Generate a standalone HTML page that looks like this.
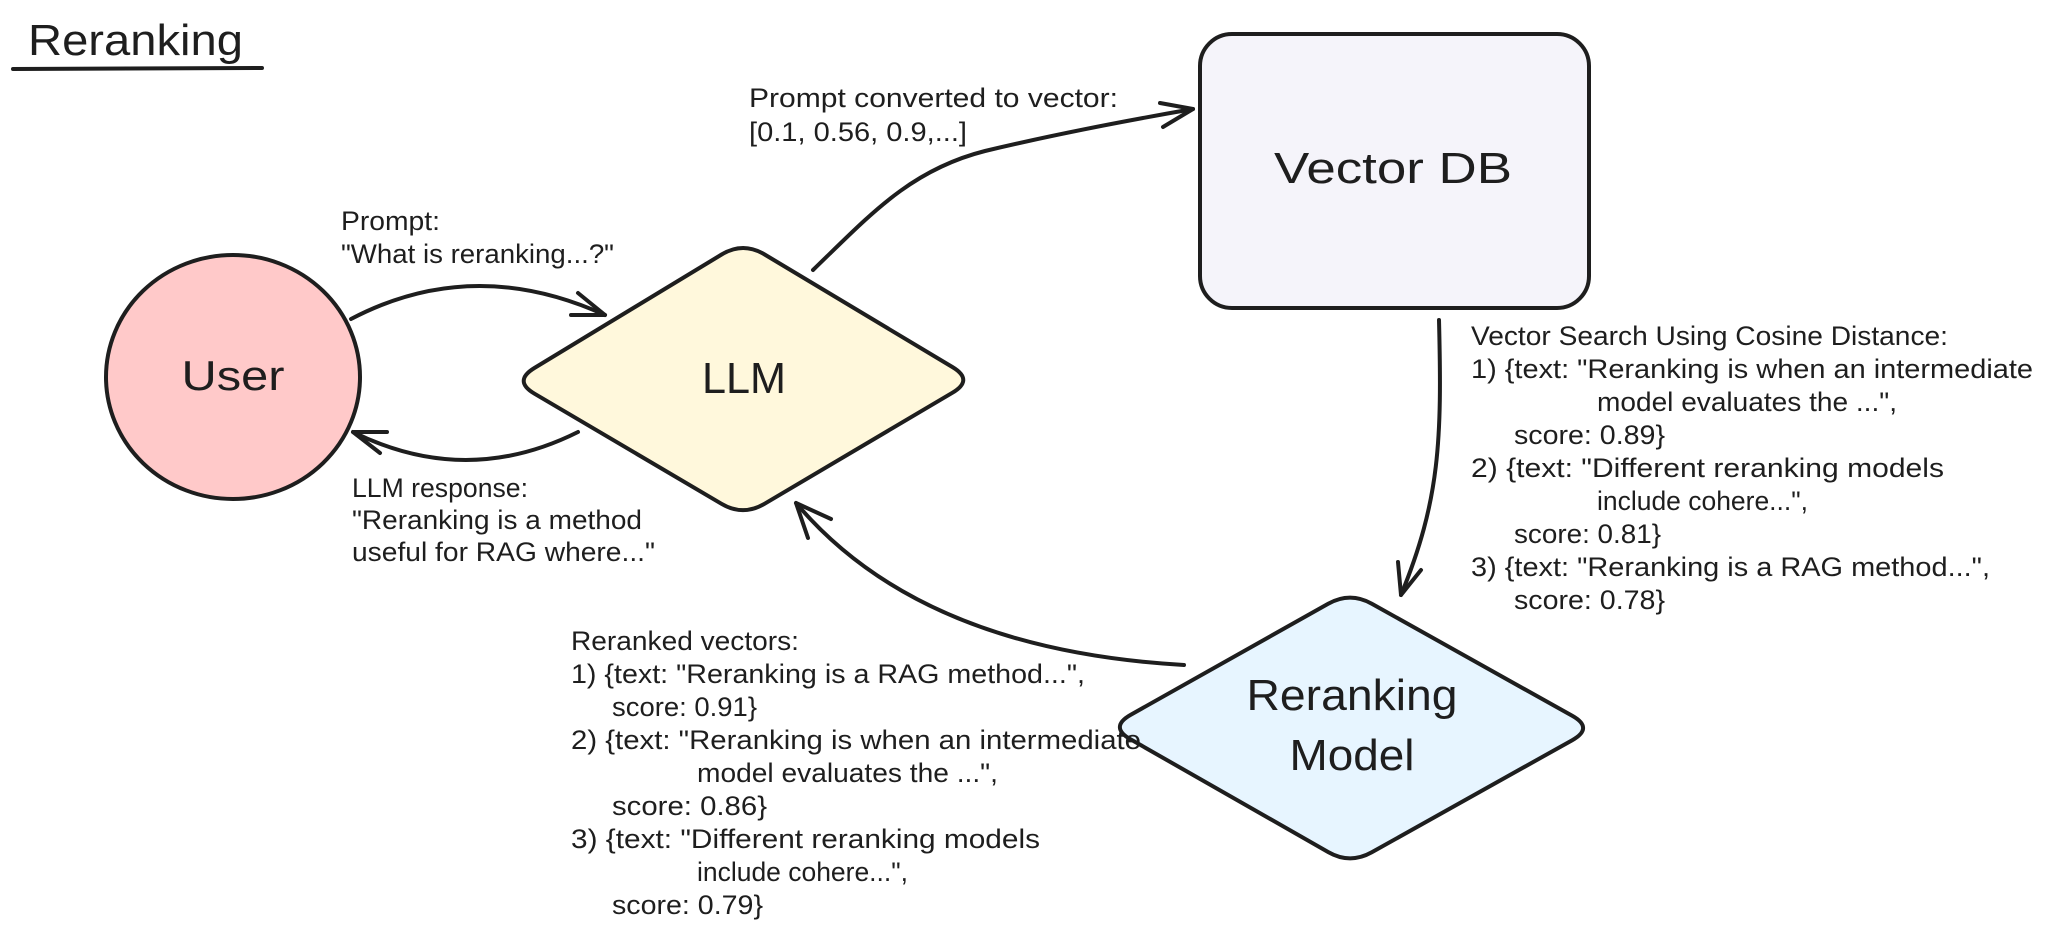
<!DOCTYPE html>
<html>
<head>
<meta charset="utf-8">
<style>
  html, body { margin: 0; padding: 0; background: #ffffff; }
  svg { display: block; }
  text { font-family: "Liberation Sans", "DejaVu Sans", sans-serif; fill: #1e1e1e; }
  .s { font-size: 27px; }
  .b { font-size: 44px; }
</style>
</head>
<body>
<svg width="2048" height="937" viewBox="0 0 2048 937" xmlns="http://www.w3.org/2000/svg">
  <rect x="0" y="0" width="2048" height="937" fill="#ffffff"/>

  <!-- Title -->
  <text class="b" x="28" y="55" textLength="215" lengthAdjust="spacingAndGlyphs">Reranking</text>
  <path d="M13 69 L262 68" stroke="#1e1e1e" stroke-width="4" stroke-linecap="round" fill="none"/>

  <!-- User circle -->
  <ellipse cx="233" cy="377" rx="127" ry="122" fill="#ffc9c9" stroke="#1e1e1e" stroke-width="4"/>
  <text class="b" x="233" y="390" text-anchor="middle" textLength="103" lengthAdjust="spacingAndGlyphs" style="font-size:42px">User</text>

  <!-- LLM diamond -->
  <path d="M534.4,368 L721.6,254.5 Q743,241.5 764.45,254.35 L952.55,367.15 Q974,380 952.5,392.7 L764.5,503.8 Q743,516.5 721.5,503.8 L534.5,393.7 Q513,381 534.4,368 Z"
        fill="#fff8dc" stroke="#1e1e1e" stroke-width="4" stroke-linejoin="round"/>
  <text class="b" x="744" y="393" text-anchor="middle" textLength="84" lengthAdjust="spacingAndGlyphs">LLM</text>

  <!-- Vector DB -->
  <rect x="1200" y="34" width="389" height="274" rx="32" ry="32" fill="#f5f4fa" stroke="#1e1e1e" stroke-width="4"/>
  <text class="b" x="1393" y="183" text-anchor="middle" textLength="238" lengthAdjust="spacingAndGlyphs">Vector DB</text>

  <!-- Reranking Model diamond -->
  <path d="M1130.8,714.75 L1328.2,603.75 Q1350,591.5 1371.8,603.7 L1572.2,715.8 Q1594,728 1572.2,740.2 L1371.8,852.3 Q1350,864.5 1328.3,852.1 L1130.7,739.4 Q1109,727 1130.8,714.75 Z"
        fill="#e7f5ff" stroke="#1e1e1e" stroke-width="4" stroke-linejoin="round"/>
  <text class="b" x="1352" y="710" text-anchor="middle" textLength="211" lengthAdjust="spacingAndGlyphs">Reranking</text>
  <text class="b" x="1352" y="770" text-anchor="middle" textLength="125" lengthAdjust="spacingAndGlyphs">Model</text>

  <!-- Arrows -->
  <g stroke="#1e1e1e" stroke-width="4" fill="none" stroke-linecap="round" stroke-linejoin="round">
    <!-- User -> LLM -->
    <path d="M351,319 Q473,255 605,315"/>
    <path d="M578,293 L605,315 L571,315"/>
    <!-- LLM -> User -->
    <path d="M578,432 Q466,488 353,432"/>
    <path d="M387,432 L353,432 L380,453"/>
    <!-- LLM -> Vector DB -->
    <path d="M813,270 C870,215 910,170 985,151 C1060,133 1130,120 1193,109"/>
    <path d="M1160,103 L1193,109 L1163,127"/>
    <!-- Vector DB -> Reranking -->
    <path d="M1439,320 C1442,440 1440,500 1401,595"/>
    <path d="M1398,562 L1401,595 L1421,570"/>
    <!-- Reranking -> LLM -->
    <path d="M1184,665 Q920,650 796,503"/>
    <path d="M831,519 L796,503 L808,538"/>
  </g>

  <!-- Prompt label -->
  <text class="s" x="341" y="230" textLength="99" lengthAdjust="spacingAndGlyphs">Prompt:</text>
  <text class="s" x="341" y="263" textLength="273" lengthAdjust="spacingAndGlyphs">"What is reranking...?"</text>

  <!-- Prompt converted label -->
  <text class="s" x="749" y="107" textLength="369" lengthAdjust="spacingAndGlyphs">Prompt converted to vector:</text>
  <text class="s" x="749" y="141" textLength="218" lengthAdjust="spacingAndGlyphs">[0.1, 0.56, 0.9,...]</text>

  <!-- LLM response label -->
  <text class="s" x="352" y="497" textLength="176" lengthAdjust="spacingAndGlyphs">LLM response:</text>
  <text class="s" x="352" y="529" textLength="290" lengthAdjust="spacingAndGlyphs">"Reranking is a method</text>
  <text class="s" x="352" y="561" textLength="303" lengthAdjust="spacingAndGlyphs">useful for RAG where..."</text>

  <!-- Vector search label -->
  <text class="s" x="1471" y="345" textLength="477" lengthAdjust="spacingAndGlyphs">Vector Search Using Cosine Distance:</text>
  <text class="s" x="1471" y="378" textLength="562" lengthAdjust="spacingAndGlyphs">1) {text: "Reranking is when an intermediate</text>
  <text class="s" x="1597" y="411" textLength="300" lengthAdjust="spacingAndGlyphs">model evaluates the ...",</text>
  <text class="s" x="1514" y="444" textLength="151" lengthAdjust="spacingAndGlyphs">score: 0.89}</text>
  <text class="s" x="1471" y="477" textLength="473" lengthAdjust="spacingAndGlyphs">2) {text: "Different reranking models</text>
  <text class="s" x="1597" y="510" textLength="211" lengthAdjust="spacingAndGlyphs">include cohere...",</text>
  <text class="s" x="1514" y="543" textLength="147" lengthAdjust="spacingAndGlyphs">score: 0.81}</text>
  <text class="s" x="1471" y="576" textLength="519" lengthAdjust="spacingAndGlyphs">3) {text: "Reranking is a RAG method...",</text>
  <text class="s" x="1514" y="609" textLength="151" lengthAdjust="spacingAndGlyphs">score: 0.78}</text>

  <!-- Reranked vectors label -->
  <text class="s" x="571" y="650" textLength="228" lengthAdjust="spacingAndGlyphs">Reranked vectors:</text>
  <text class="s" x="571" y="683" textLength="514" lengthAdjust="spacingAndGlyphs">1) {text: "Reranking is a RAG method...",</text>
  <text class="s" x="612" y="716" textLength="145" lengthAdjust="spacingAndGlyphs">score: 0.91}</text>
  <text class="s" x="571" y="749" textLength="570" lengthAdjust="spacingAndGlyphs">2) {text: "Reranking is when an intermediate</text>
  <text class="s" x="697" y="782" textLength="301" lengthAdjust="spacingAndGlyphs">model evaluates the ...",</text>
  <text class="s" x="612" y="815" textLength="155" lengthAdjust="spacingAndGlyphs">score: 0.86}</text>
  <text class="s" x="571" y="848" textLength="469" lengthAdjust="spacingAndGlyphs">3) {text: "Different reranking models</text>
  <text class="s" x="697" y="881" textLength="211" lengthAdjust="spacingAndGlyphs">include cohere...",</text>
  <text class="s" x="612" y="914" textLength="151" lengthAdjust="spacingAndGlyphs">score: 0.79}</text>
</svg>
</body>
</html>
